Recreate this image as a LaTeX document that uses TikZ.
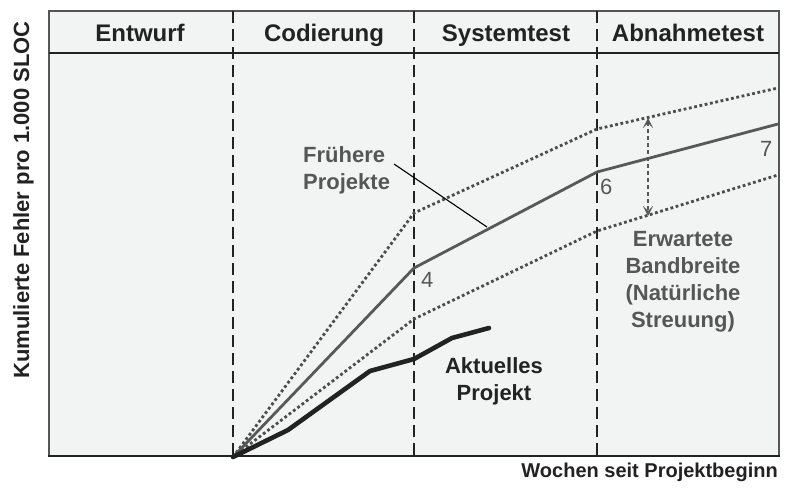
\documentclass[tikz,border=0pt]{standalone}
\usepackage{fontspec}
\setmainfont{Liberation Sans}
\usetikzlibrary{arrows.meta}
\definecolor{bgc}{HTML}{F2F3F3}
\definecolor{txtgray}{HTML}{565656}
\definecolor{linegray}{HTML}{585858}
\definecolor{dotgray}{HTML}{4C4C4C}
\definecolor{framegray}{HTML}{555555}
\definecolor{darkc}{HTML}{222222}
\tikzset{
  phasediv/.style={darkc, line width=1.6pt, dash pattern=on 12pt off 6pt},
  bandline/.style={dotgray, line width=2.8pt, dash pattern=on 2.8pt off 2.6pt},
  oldline/.style={linegray, line width=2.8pt, line join=round},
  curline/.style={darkc, line width=4.6pt, line join=round, line cap=round},
  headtxt/.style={font=\fontsize{24}{28}\selectfont\bfseries, text=darkc, inner sep=0pt, anchor=base},
  graylab/.style={font=\fontsize{22}{26.7}\selectfont\bfseries, text=txtgray, inner sep=0pt},
  numlab/.style={font=\fontsize{22}{26}\selectfont, text=txtgray, inner sep=0pt, anchor=base west},
  blacklab/.style={font=\fontsize{22}{27}\selectfont\bfseries, text=darkc, inner sep=0pt},
  rangearrow/.style={txtgray, line width=1.3pt, dash pattern=on 4pt off 3pt,
     {Stealth[length=10pt,width=10pt,inset=5pt]}-{Stealth[length=10pt,width=10pt,inset=5pt]}},
  leader/.style={black, line width=1.1pt}
}
\begin{document}
\begin{tikzpicture}[x=1pt,y=-1pt]
\useasboundingbox (0,0) rectangle (785,488);
\fill[white] (0,0) rectangle (785,488);
% frame
\fill[bgc] (49,11) rectangle (779,456);
\draw[framegray, line width=1.2pt] (49,456) -- (49,11) -- (779,11) -- (779,456);
\draw[darkc, line width=2.6pt] (49,53) -- (779,53);
\draw[darkc, line width=2.6pt] (48,456) -- (780,456);
% phase dividers
\coordinate (d1t) at (233,11); \coordinate (d1b) at (233,456);
\coordinate (d2t) at (414,11); \coordinate (d2b) at (414,456);
\coordinate (d3t) at (597,11); \coordinate (d3b) at (597,456);
\draw[phasediv] (d1t) -- (d1b);
\draw[phasediv] (d2t) -- (d2b);
\draw[phasediv] (d3t) -- (d3b);
% header texts
\node[headtxt] (h1) at (140,41) {Entwurf};
\node[headtxt] (h2) at (324,41) {Codierung};
\node[headtxt] (h3) at (506,41) {Systemtest};
\node[headtxt] (h4) at (688,41) {Abnahmetest};
% curve points
\coordinate (o) at (233,457);
\coordinate (g1) at (414,268); \coordinate (g2) at (597,172); \coordinate (g3) at (778,124);
\coordinate (u1) at (414,213); \coordinate (u2) at (597,129); \coordinate (u3) at (778,88);
\coordinate (l1) at (414,319); \coordinate (l2) at (597,231); \coordinate (l3) at (778,175);
\coordinate (c1) at (288,430); \coordinate (c2) at (370,371); \coordinate (c3) at (414,359);
\coordinate (c4) at (452,338); \coordinate (c5) at (489,328);
% band lines
\draw[bandline] (o) -- (u1) -- (u2) -- (u3);
\draw[bandline] (o) -- (l1) -- (l2) -- (l3);
% earlier projects
\draw[oldline] (o) -- (g1) -- (g2) -- (g3);
% current project
\draw[curline] (o) -- (c1) -- (c2) -- (c3) -- (c4) -- (c5);
% range arrow
\coordinate (at) at (648,118); \coordinate (ab) at (648,216);
\draw[rangearrow] (at) -- (ab);
% labels
\node[graylab, anchor=base west, align=left] (fp) at (303,189) {Frühere\\Projekte};
\coordinate (ls) at (394,164); \coordinate (le) at (487,227);
\draw[leader] (ls) -- (le);
\node[numlab] (n4) at (421,287) {4};
\node[numlab] (n6) at (600,194) {6};
\node[numlab] (n7) at (760,156) {7};
\node[graylab, anchor=base, align=center] (eb) at (683,327) {Erwartete\\Bandbreite\\(Natürliche\\Streuung)};
\node[blacklab, anchor=base, align=center] (ap) at (494,400) {Aktuelles\\Projekt};
\node[font=\fontsize{20}{24}\selectfont\bfseries, text=darkc, inner sep=0pt, anchor=base east] (xl) at (778,477) {Wochen seit Projektbeginn};
\node[font=\fontsize{22}{26}\selectfont\bfseries, text=darkc, inner sep=0pt, anchor=base, rotate=90] (yl) at (29,200) {Kumulierte Fehler pro 1.000 SLOC};
\end{tikzpicture}
\end{document}
